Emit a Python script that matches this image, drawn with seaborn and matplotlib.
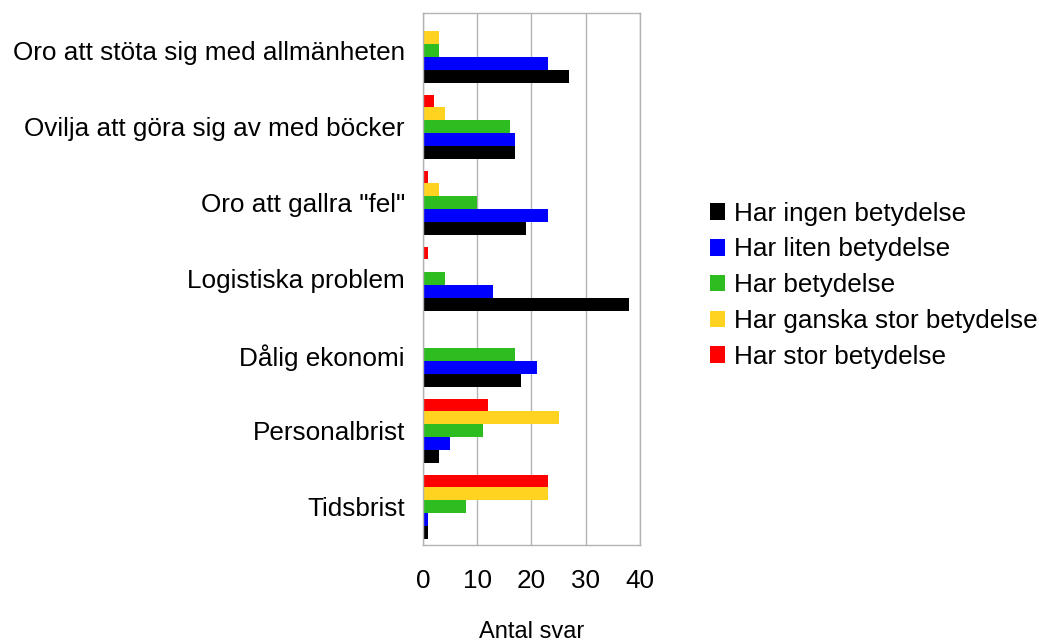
import matplotlib
matplotlib.use('Agg')
import pandas as pd
import matplotlib.pyplot as plt
import seaborn as sns
from matplotlib.patches import Patch

categories = ['Oro att stöta sig med allmänheten', 'Ovilja att göra sig av med böcker',
              'Oro att gallra "fel"', 'Logistiska problem', 'Dålig ekonomi',
              'Personalbrist', 'Tidsbrist']
series = ['Har ingen betydelse', 'Har liten betydelse', 'Har betydelse',
          'Har ganska stor betydelse', 'Har stor betydelse']
ingen = [27, 17, 19, 38, 18, 3, 1]
liten = [23, 17, 23, 13, 21, 5, 1]
betydelse = [3, 16, 10, 4, 17, 11, 8]
ganska = [3, 4, 3, 0, 0, 25, 23]
stor = [0, 2, 1, 1, 0, 12, 23]
colors = ['#000000', '#0000ff', '#2dbd20', '#ffd320', '#ff0000']

rows = []
for s, vals in zip(series, [ingen, liten, betydelse, ganska, stor]):
    for c, v in zip(categories, vals):
        rows.append({'kategori': c, 'serie': s, 'antal': v})
df = pd.DataFrame(rows)

sns.set_style('white')
plt.rcParams['font.family'] = ['Liberation Sans', 'DejaVu Sans']
plt.rcParams['text.color'] = 'black'
plt.rcParams['axes.labelcolor'] = 'black'
fs = 18.8
grey = '#b3b3b3'

fig = plt.figure(figsize=(10.39, 6.41), dpi=100)
ax = fig.add_axes([0.407, 0.150, 0.209, 0.830])
pal = dict(zip(series, colors))
# first hue drawn on top of each group, so reverse to get black at the bottom
sns.barplot(data=df, y='kategori', x='antal', hue='serie', hue_order=series[::-1],
            order=categories, palette=pal, width=0.85, orient='h', ax=ax,
            legend=False, saturation=1, linewidth=0)

ax.set_xlim(0, 40)
ax.set_xticks(range(0, 41, 10))
ax.set_ylim(len(categories) - 0.5, -0.5)
ax.set_yticks([i - 0.5 for i in range(len(categories) + 1)], minor=True)
ax.grid(axis='x', color=grey, linewidth=1)
ax.set_axisbelow(True)
for sp in ax.spines.values():
    sp.set_color(grey)
    sp.set_linewidth(1)
ax.tick_params(axis='y', which='major', length=0, pad=13, labelsize=fs, labelcolor='black')
ax.tick_params(axis='y', which='minor', length=9, color=grey, width=1)
ax.tick_params(axis='x', length=9, color=grey, width=1, pad=8.5, labelsize=fs, labelcolor='black')
ax.set_ylabel('')
ax.set_xlabel('Antal svar', fontsize=17, labelpad=20)

handles = [Patch(facecolor=c, edgecolor='none') for c in colors]
fig.legend(handles, series, loc='center left', bbox_to_anchor=(0.683, 0.555),
           frameon=False, fontsize=fs, borderpad=0, borderaxespad=0, handlelength=0.6,
           handleheight=0.6, handletextpad=0.35, labelspacing=0.45)

fig.savefig('out.png', dpi=100)
